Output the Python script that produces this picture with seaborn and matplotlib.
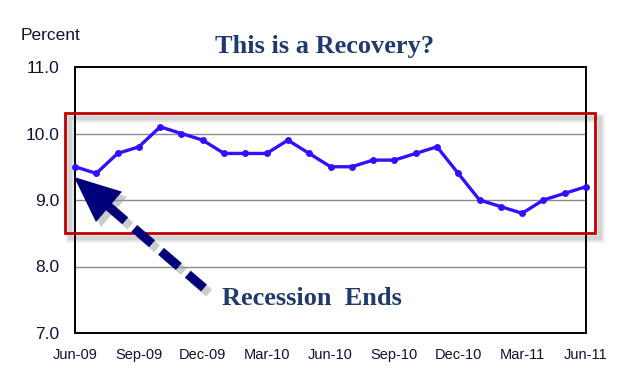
import matplotlib
matplotlib.use("Agg")
import matplotlib.pyplot as plt
import seaborn as sns
import pandas as pd
import numpy as np
from matplotlib.patches import Rectangle, Polygon

months = ["Jun-09", "Jul-09", "Aug-09", "Sep-09", "Oct-09", "Nov-09", "Dec-09",
          "Jan-10", "Feb-10", "Mar-10", "Apr-10", "May-10", "Jun-10", "Jul-10",
          "Aug-10", "Sep-10", "Oct-10", "Nov-10", "Dec-10", "Jan-11", "Feb-11",
          "Mar-11", "Apr-11", "May-11", "Jun-11"]
rate = [9.5, 9.4, 9.7, 9.8, 10.1, 10.0, 9.9, 9.7, 9.7, 9.7, 9.9, 9.7, 9.5, 9.5,
        9.6, 9.6, 9.7, 9.8, 9.4, 9.0, 8.9, 8.8, 9.0, 9.1, 9.2]
xtick_labels = ["Jun-09", "Sep-09", "Dec-09", "Mar-10", "Jun-10", "Sep-10",
                "Dec-10", "Mar-11", "Jun-11"]
yticks = [7.0, 8.0, 9.0, 10.0, 11.0]

sns.set_style("white")
plt.rcParams['font.family'] = ['Liberation Sans', 'DejaVu Sans']

W, H = 620, 385
fig = plt.figure(figsize=(W / 100, H / 100), dpi=100)
ax = fig.add_axes([75 / W, 1 - 333 / H, (586 - 75) / W, (333 - 67) / H])

df = pd.DataFrame({"idx": np.arange(len(months)), "month": months, "rate": rate})
sns.lineplot(data=df, x="idx", y="rate", ax=ax, color="#3311ff", linewidth=2.4,
             marker="o", markersize=5, markeredgewidth=0, clip_on=False, zorder=5)

ax.set_xlim(0, len(months) - 1)
ax.set_ylim(7.0, 11.0)
ax.set_yticks(yticks)
ax.set_yticklabels([f"{v:.1f}" for v in yticks], fontsize=12.5, color="#111133")
ax.set_xticks(np.arange(len(months)))
ax.set_xticklabels([m if m in xtick_labels else "" for m in months],
                   fontsize=10.5, color="#111133")
ax.tick_params(axis="x", direction="in", length=4, width=1, color="black", pad=11)
ax.tick_params(axis="y", length=0, pad=11)
ax.set_xlabel("")
ax.set_ylabel("")
for y in [8.0, 9.0, 10.0]:
    ax.axhline(y, color="#8a8a8a", linewidth=1, zorder=1)
for s in ax.spines.values():
    s.set_visible(True)
    s.set_color("black")
    s.set_linewidth(1.4)

# data <-> pixel helpers (for annotation placement)
def px2data(px, py):
    x = (px - 75) / ((586 - 75) / 24)
    y = 11 - (py - 67) / ((333 - 67) / 4)
    return x, y

# red highlight rectangle with shadow
x0, y0 = px2data(65, 233)
x1, y1 = px2data(595, 113)
sx0, sy0 = px2data(70, 238)
sx1, sy1 = px2data(600, 118)
for lw, a in [(7, 0.08), (5, 0.12), (3, 0.18)]:
    ax.add_patch(Rectangle((sx0, sy0), sx1 - sx0, sy1 - sy0, fill=False,
                           edgecolor="#808080", linewidth=lw, alpha=a,
                           clip_on=False, zorder=2))
ax.add_patch(Rectangle((x0, y0), x1 - x0, y1 - y0, fill=False,
                       edgecolor="#c00000", linewidth=2, clip_on=False, zorder=6))

# dashed arrow with shadow
tip = np.array([74.0, 177.0])
tail = np.array([204.0, 288.0])
d = (tail - tip) / np.linalg.norm(tail - tip)
perp = np.array([-d[1], d[0]])
base = tip + d * 46
c1 = base + perp * 20
c2 = base - perp * 20
for off, col, a, z in [((5, 5), "#9a9a9a", 0.5, 3), ((0, 0), "#00007a", 1.0, 7)]:
    o = np.array(off)
    s0 = px2data(*(base - d * 2 + o))
    s1 = px2data(*(tail + o))
    ax.plot([s0[0], s1[0]], [s0[1], s1[1]], color=col, alpha=a, linewidth=6.5,
            linestyle=(0, (2.6, 1.3)), solid_capstyle="butt", dash_capstyle="butt",
            clip_on=False, zorder=z)
    ax.add_patch(Polygon([px2data(*(tip + o)), px2data(*(c1 + o)), px2data(*(c2 + o))],
                         closed=True, facecolor=col, edgecolor="none", alpha=a,
                         clip_on=False, zorder=z))

# texts
fig.text(21 / W, 1 - 40 / H, "Percent", fontsize=12.5, color="#111133",
         ha="left", va="baseline")
fig.text(325 / W, 1 - 53 / H, "This is a Recovery?", fontsize=19,
         fontweight="bold", family=["Liberation Serif", "DejaVu Serif"],
         color="#1f3a6b", ha="center", va="baseline")
tx, ty = px2data(222, 305)
ax.text(tx, ty, "Recession  Ends", fontsize=19, fontweight="bold",
        family=["Liberation Serif", "DejaVu Serif"], color="#1f3a6b",
        ha="left", va="baseline", zorder=8)

fig.savefig("out.png", dpi=100)
